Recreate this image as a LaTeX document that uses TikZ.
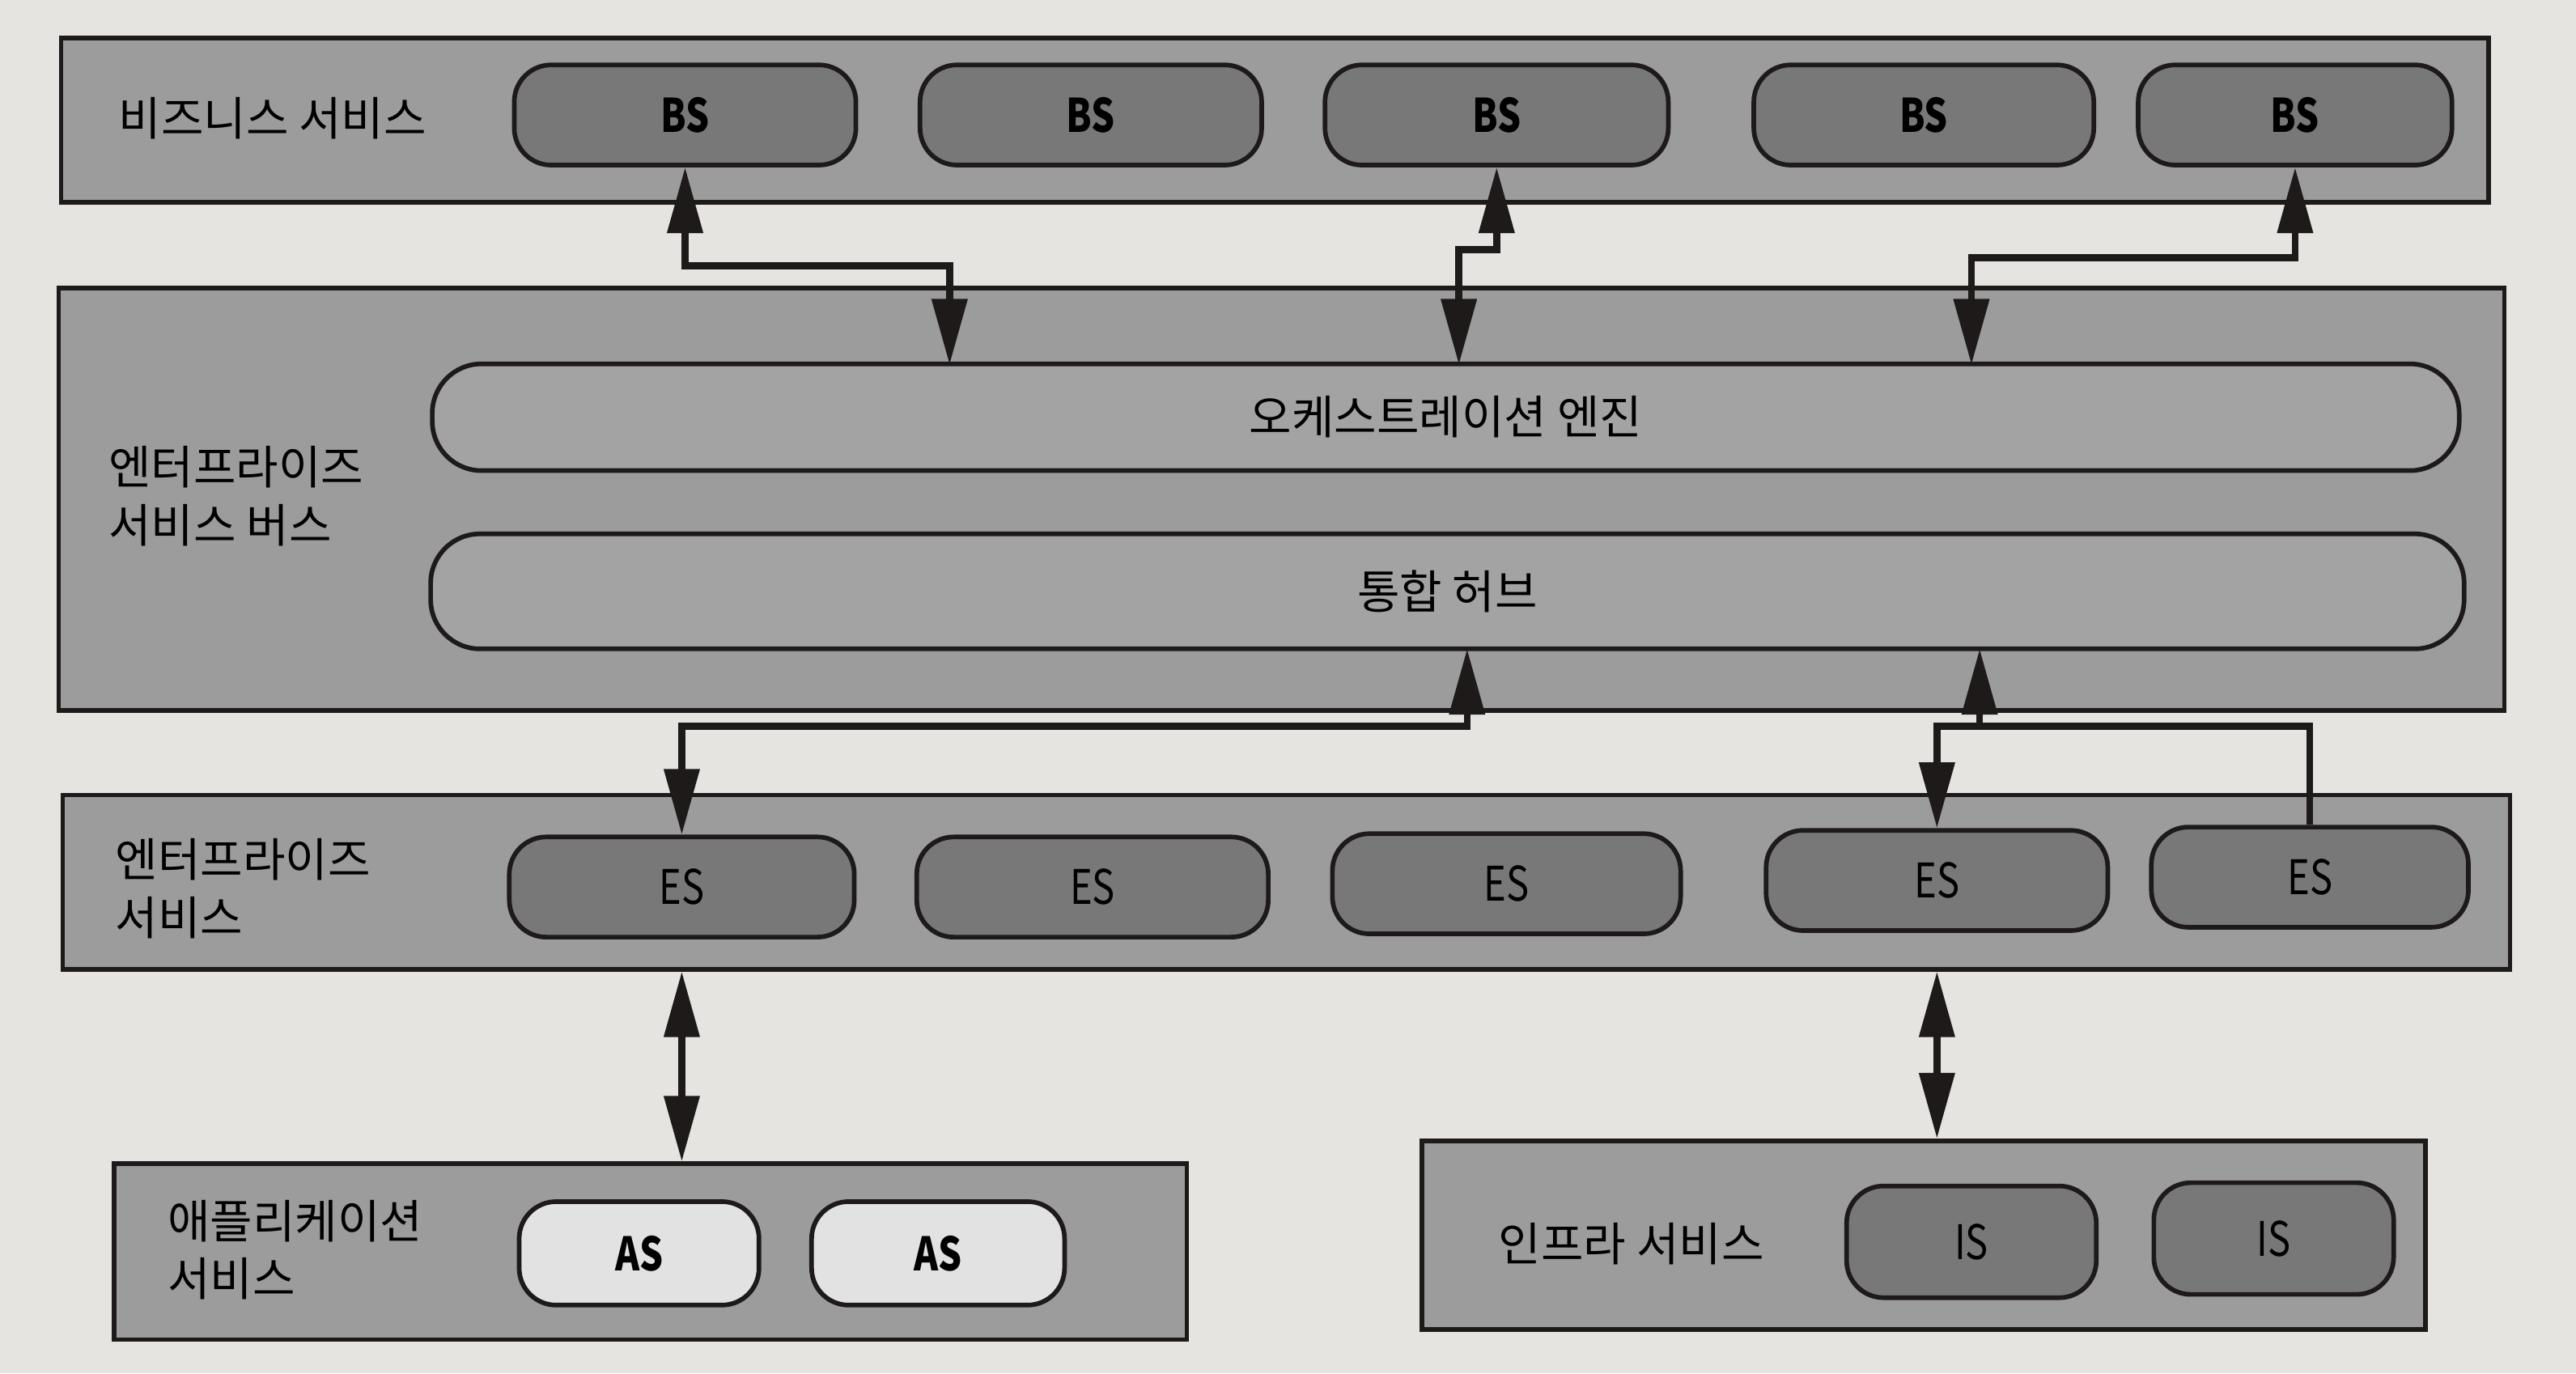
\documentclass[tikz,border=0pt]{standalone}
\usepackage{fontspec}
\setmainfont{Noto Sans CJK KR}
\usepackage{xcolor}
\usepackage{graphicx}
\definecolor{colorPaper}{HTML}{E6E4E1}
\definecolor{colorBand}{HTML}{9C9C9C}
\definecolor{colorService}{HTML}{787878}
\definecolor{colorEngine}{HTML}{A3A3A3}
\definecolor{colorApp}{HTML}{E2E2E2}
\definecolor{colorLine}{HTML}{1E1A1A}
\newcommand{\svc}[1]{\scalebox{0.8}[1]{#1}}
\usepackage{tikz}
\usetikzlibrary{arrows.meta}
\tikzset{
band/.style={draw=colorLine, line width=1.6pt, fill=colorBand},
service/.style={draw=colorLine, line width=1.6pt, fill=colorService, rounded corners=0.45cm, minimum height=1.22cm, font=\fontsize{16.5}{18}\selectfont},
strong/.style={font=\fontsize{16}{18}\selectfont\bfseries},
engine/.style={draw=colorLine, line width=1.6pt, fill=colorEngine, rounded corners=0.6cm, font=\fontsize{16}{18}\selectfont},
bandname/.style={anchor=west, align=left, font=\fontsize{16}{20}\selectfont},
link/.style={line width=2.4pt, draw=colorLine}
}

\begin{document}
\begin{tikzpicture}[x=0.02cm, y=-0.02cm, >={Triangle[length=0.8cm, width=0.42cm]}]
\fill[colorPaper] (0,0) rectangle (1568,836);
\useasboundingbox (0,0) rectangle (1568,836);
\node[band, minimum width=29.56cm, minimum height=2cm] (bsband) at (776,73) {};
\node[band, minimum width=29.78cm, minimum height=5.14cm] (esbband) at (780,304) {};
\node[band, minimum width=29.8cm, minimum height=2.12cm] (esband) at (783,537) {};
\node[band, minimum width=13.06cm, minimum height=2.14cm] (appband) at (396,762) {};
\node[band, minimum width=12.22cm, minimum height=2.3cm] (infraband) at (1171,752) {};
\node[bandname] (bsname) at (66,72) {비즈니스 서비스};
\node[bandname] (esbname) at (60,302) {엔터프라이즈\\서비스 버스};
\node[bandname] (esname) at (64,541) {엔터프라이즈\\서비스};
\node[bandname] (appname) at (96,761) {애플리케이션\\서비스};
\node[bandname] (infraname) at (906,757) {인프라 서비스};
\node[service, strong, minimum width=4.16cm] (bs1) at (417,70) {\svc{BS}};
\node[service, strong, minimum width=4.16cm] (bs2) at (664,70) {\svc{BS}};
\node[service, strong, minimum width=4.18cm] (bs3) at (911,70) {\svc{BS}};
\node[service, strong, minimum width=4.14cm] (bs4) at (1171,70) {\svc{BS}};
\node[service, strong, minimum width=3.82cm] (bs5) at (1397,70) {\svc{BS}};
\node[engine, minimum width=24.68cm, minimum height=1.3cm] (orch) at (880,254) {오케스트레이션 엔진};
\node[engine, minimum width=24.76cm, minimum height=1.4cm] (hub) at (881,360) {통합 허브};
\node[service, minimum width=4.2cm] (es1) at (415,540) {\svc{ES}};
\node[service, minimum width=4.28cm] (es2) at (665,540) {\svc{ES}};
\node[service, minimum width=4.24cm] (es3) at (917,538) {\svc{ES}};
\node[service, minimum width=4.16cm] (es4) at (1179,536) {\svc{ES}};
\node[service, minimum width=3.86cm] (es5) at (1406,534) {\svc{ES}};
\node[service, strong, fill=colorApp, minimum width=2.92cm, minimum height=1.26cm] (as1) at (389,763) {\svc{AS}};
\node[service, strong, fill=colorApp, minimum width=3.08cm, minimum height=1.26cm] (as2) at (571,763) {\svc{AS}};
\node[service, minimum width=3.04cm, minimum height=1.36cm] (is1) at (1200,756) {\svc{IS}};
\node[service, minimum width=2.92cm, minimum height=1.36cm] (is2) at (1384,754) {\svc{IS}};
\coordinate (o1) at (578,222);
\coordinate (o2) at (888,222);
\coordinate (o3) at (1200,222);
\coordinate (h1) at (893,395);
\coordinate (h2) at (1205,395);
\draw[link, <->] (bs1.south) -- ++(0,60) -| (o1);
\draw[link, <->] (bs3.south) -- ++(0,50) -| (o2);
\draw[link, <->] (bs5.south) -- ++(0,55) -| (o3);
\draw[link, <->] (h1) -- ++(0,47) -| (es1.north);
\draw[link, <-] (h2) -- ++(0,47) coordinate (fork);
\draw[link, ->] (fork) -| (es4.north);
\draw[link] (fork) -| (es5.north);
\draw[link, <->] (esband.south -| es1.south) -- (appband.north -| es1.south);
\draw[link, <->] (esband.south -| es4.south) -- (infraband.north -| es4.south);
\end{tikzpicture}
\end{document}
